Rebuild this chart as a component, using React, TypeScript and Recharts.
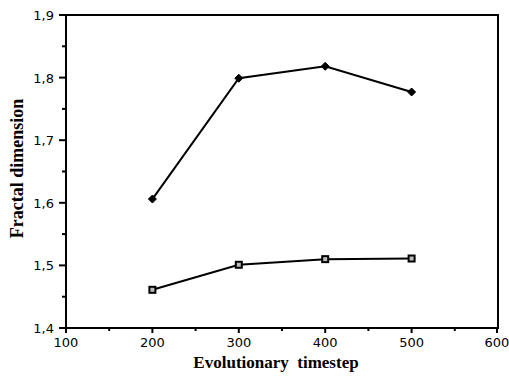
import React from "react";
import { LineChart, Line, XAxis, YAxis, ReferenceArea } from "recharts";

const timesteps = [200, 300, 400, 500];
const diamondSeries = [1.606, 1.799, 1.818, 1.777];
const squareSeries = [1.461, 1.501, 1.51, 1.511];
const xTicks = [100, 150, 200, 250, 300, 350, 400, 450, 500, 550, 600];
const yTicks = [1.4, 1.45, 1.5, 1.55, 1.6, 1.65, 1.7, 1.75, 1.8, 1.85, 1.9];

const data = timesteps.map((t, i) => ({ t, a: diamondSeries[i], b: squareSeries[i] }));

const tickFont = "'DejaVu Sans', sans-serif";
const titleFont = "'Liberation Serif', 'Times New Roman', serif";

const XTick = (props: any) => {
  const { x, y, payload } = props;
  const v = payload.value;
  const major = v % 100 === 0;
  return (
    <g>
      <line x1={x} x2={x} y1={y} y2={y + (major ? 5 : 3)} stroke="#000" strokeWidth={2} />
      {major && (
        <text x={x} y={y + 19} textAnchor="middle" fontFamily={tickFont} fontSize={13} fill="#000">
          {v}
        </text>
      )}
    </g>
  );
};

const YTick = (props: any) => {
  const { x, y, payload } = props;
  const v = payload.value;
  const major = Math.round(v * 100) % 10 === 0;
  return (
    <g>
      <line x1={x - (major ? 7 : 4)} x2={x} y1={y} y2={y} stroke="#000" strokeWidth={2} />
      {major && (
        <text x={x - 12} y={y + 5} textAnchor="end" fontFamily={tickFont} fontSize={13} fill="#000">
          {v.toFixed(1).replace(".", ",")}
        </text>
      )}
    </g>
  );
};

const Diamond = (props: any) => {
  const { cx, cy } = props;
  if (cx == null || cy == null) return null;
  const r = 4;
  return <path d={`M${cx},${cy - r}L${cx + r},${cy}L${cx},${cy + r}L${cx - r},${cy}Z`} fill="#000" stroke="#000" />;
};

const Square = (props: any) => {
  const { cx, cy } = props;
  if (cx == null || cy == null) return null;
  return <rect x={cx - 3} y={cy - 3} width={6} height={6} fill="#bbb" stroke="#000" strokeWidth={2} />;
};

const XTitle = (p: any) => {
  const vb = p.viewBox;
  const cx = vb.x + vb.width / 2 - 6;
  return (
    <text x={cx} y={vb.y + 40} textAnchor="middle" fontFamily={titleFont} fontWeight="bold" fontSize={17} fill="#000" style={{ whiteSpace: "pre" }}>
      {"Evolutionary  timestep"}
    </text>
  );
};

const YTitle = (p: any) => {
  const vb = p.viewBox;
  const cx = 17;
  const cy = vb.y + vb.height / 2 - 3;
  return (
    <text x={cx} y={cy} transform={`rotate(-90, ${cx}, ${cy})`} textAnchor="middle" dominantBaseline="central" fontFamily={titleFont} fontWeight="bold" fontSize={18} fill="#000">
      Fractal dimension
    </text>
  );
};

export default function App() {
  return (
    <div style={{ position: "absolute", left: 0, top: 0, background: "#fff" }}>
      <LineChart width={509} height={378} data={data} margin={{ top: 15, right: 11, left: 0, bottom: 0 }}>
        <ReferenceArea x1={100} x2={600} y1={1.4} y2={1.9} fill="none" fillOpacity={0} stroke="#000" strokeWidth={2} ifOverflow="visible" />
        <XAxis
          dataKey="t"
          type="number"
          domain={[100, 600]}
          ticks={xTicks}
          tickLine={false}
          tickSize={0}
          tickMargin={0}
          tick={<XTick />}
          height={50}
          stroke="#000"
          axisLine={{ stroke: "#000", strokeWidth: 2 }}
          label={{ content: XTitle }}
        />
        <YAxis
          type="number"
          domain={[1.4, 1.9]}
          ticks={yTicks}
          width={66}
          tickLine={false}
          tickSize={0}
          tickMargin={0}
          tick={<YTick />}
          stroke="#000"
          axisLine={{ stroke: "#000", strokeWidth: 2 }}
          label={{ content: YTitle }}
        />
        <Line dataKey="a" stroke="#000" strokeWidth={2} dot={<Diamond />} isAnimationActive={false} />
        <Line dataKey="b" stroke="#000" strokeWidth={2} dot={<Square />} isAnimationActive={false} />
      </LineChart>
    </div>
  );
}
